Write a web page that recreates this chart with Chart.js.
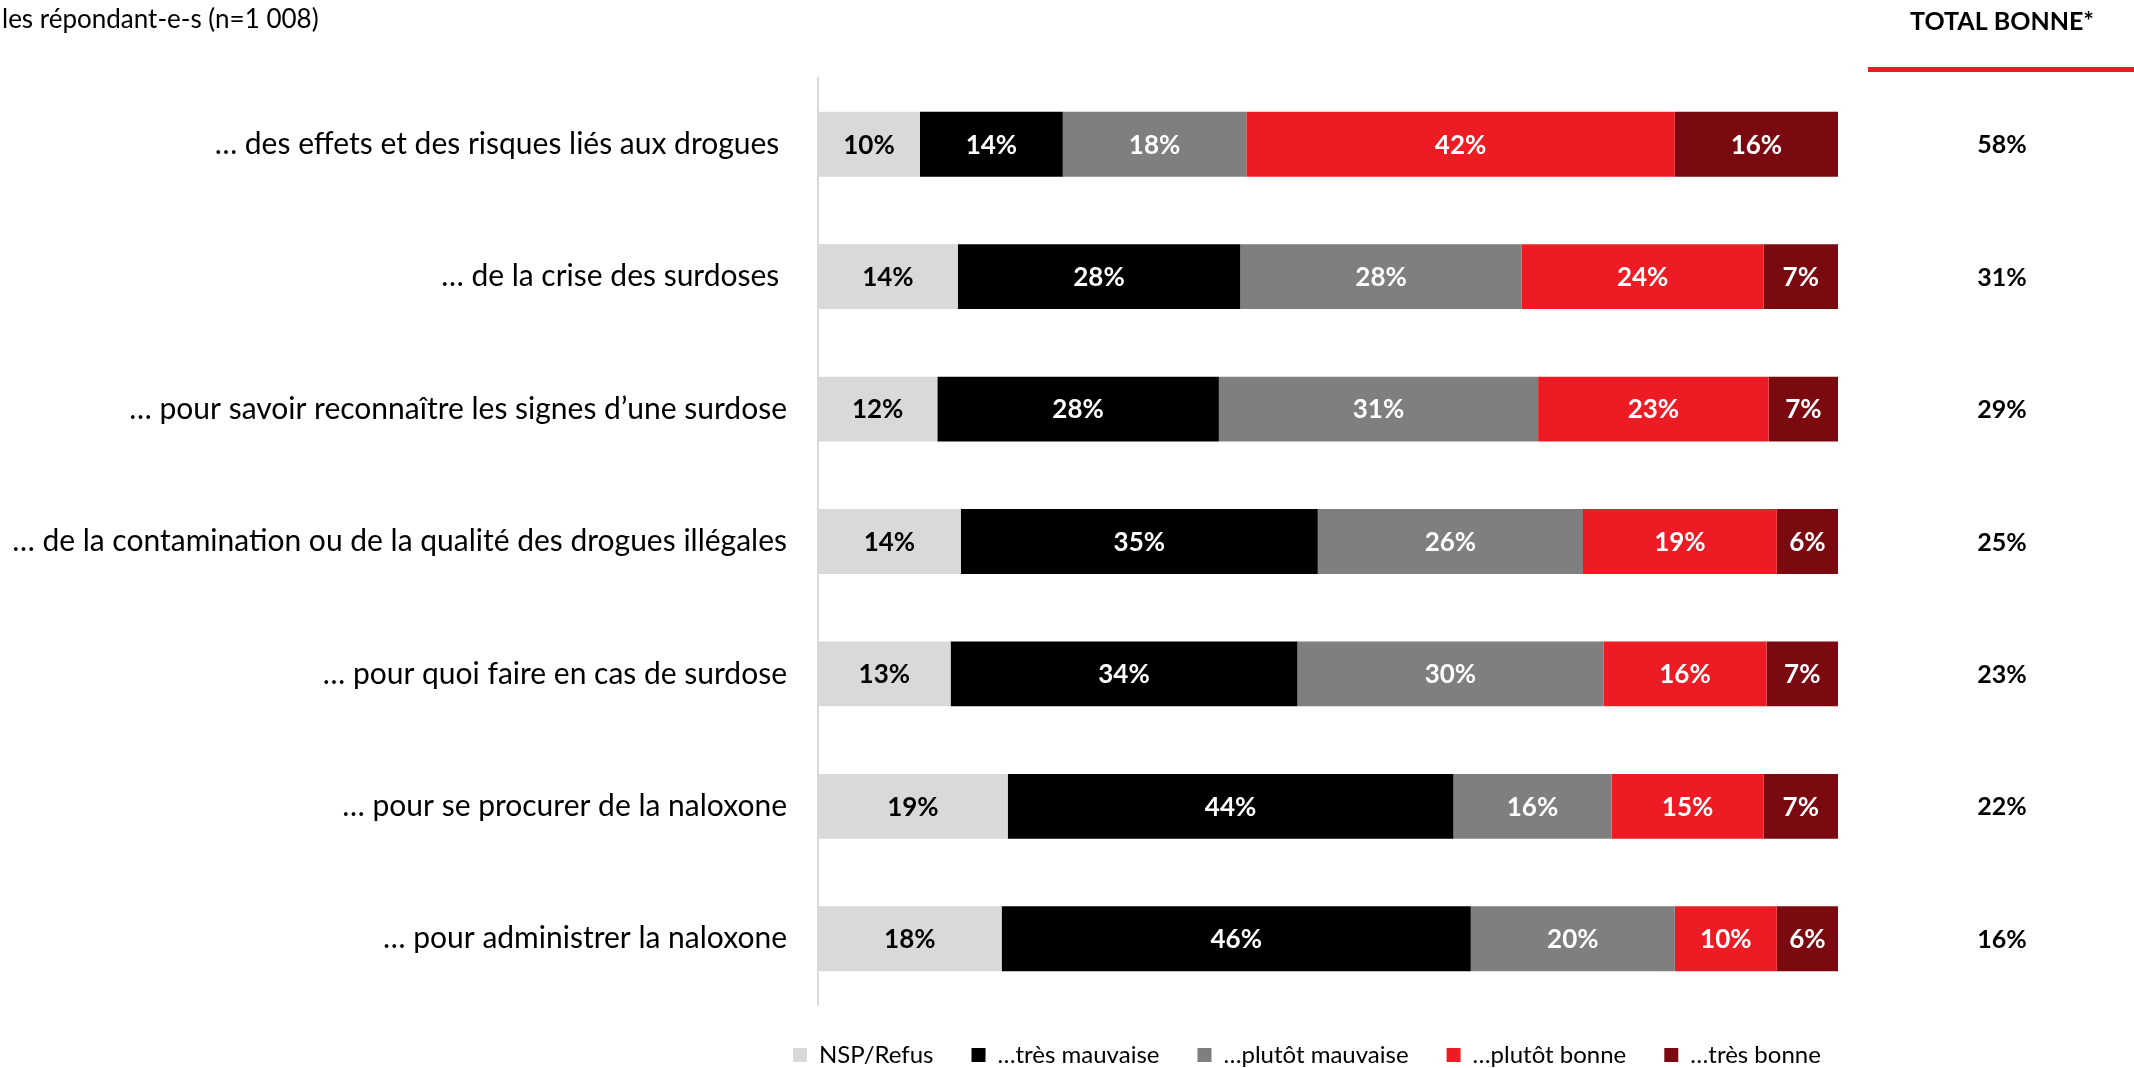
<!DOCTYPE html>
<html>
<head>
<meta charset="utf-8">
<script src="https://cdn.jsdelivr.net/npm/chart.js@4"></script>
<style>
  html, body { margin: 0; padding: 0; background: #fff; overflow: hidden; }
  #wrap { position: relative; width: 2134px; height: 1068px; }
</style>
</head>
<body>
<div id="wrap"><canvas id="chart" width="2134" height="1068"></canvas></div>
<script>
// ---- data ----
const CATEGORIES = [
  '… des effets et des risques liés aux drogues ',
  '… de la crise des surdoses ',
  '… pour savoir reconnaître les signes d’une surdose',
  '… de la contamination ou de la qualité des drogues illégales',
  '… pour quoi faire en cas de surdose',
  '… pour se procurer de la naloxone',
  '… pour administrer la naloxone',
];
const SERIES_NAMES = ['NSP/Refus', '…très mauvaise', '…plutôt mauvaise', '…plutôt bonne', '…très bonne'];
const NSP_REFUS       = [10, 13.7, 11.7, 14, 13, 18.6, 18];
const TRES_MAUVAISE   = [14, 27.7, 27.6, 35, 34, 43.7, 46];
const PLUTOT_MAUVAISE = [18, 27.6, 31.3, 26, 30, 15.5, 20];
const PLUTOT_BONNE    = [42, 23.7, 22.6, 19, 16, 14.9, 10];
const TRES_BONNE      = [16, 7.3, 6.8, 6, 7, 7.3, 6];
const TOTAL_BONNE     = [58, 31, 29, 25, 23, 22, 16];

const COLORS = ['#d9d9d9', '#000000', '#7f7f7f', '#ed1c24', '#7a0a0f'];
const FONT = 'Lato';

// category labels, labels in the bars, total column, header texts
const overlayPlugin = {
  id: 'overlay',
  afterDatasetsDraw(chart) {
    const { ctx } = chart;
    const yScale  = chart.scales.y;
    ctx.save();
    ctx.textBaseline = 'middle';

    ctx.textAlign = 'right';
    ctx.fillStyle = '#000';
    ctx.font      = `30px ${FONT}`;
    chart.data.labels.forEach((lab, i) => {
      ctx.fillText(lab, 787, yScale.getPixelForValue(i));
    });

    ctx.textAlign = 'center';
    ctx.font      = `bold 26px ${FONT}`;
    chart.data.datasets.forEach((ds, di) => {
      chart.getDatasetMeta(di).data.forEach((bar, i) => {
        ctx.fillStyle = di === 0 ? '#000' : '#fff';
        ctx.fillText(`${Math.round(ds.data[i])}%`, (bar.x + bar.base) / 2, bar.y + 1);
      });
    });

    ctx.fillStyle = '#000';
    ctx.font      = `bold 25px ${FONT}`;
    TOTAL_BONNE.forEach((v, i) => {
      ctx.fillText(`${v}%`, 2002, yScale.getPixelForValue(i) + 1);
    });

    ctx.fillText('TOTAL BONNE*', 2002, 22);
    ctx.fillStyle = '#ed1c24';
    ctx.fillRect(1868, 67, 266, 5);

    ctx.textAlign = 'left';
    ctx.fillStyle = '#000';
    ctx.font      = `26px ${FONT}`;
    ctx.fillText('les répondant-e-s (n=1 008)', 2, 20);
    ctx.restore();
  },
};

function build() {
  const series = [NSP_REFUS, TRES_MAUVAISE, PLUTOT_MAUVAISE, PLUTOT_BONNE, TRES_BONNE];
  new Chart(document.getElementById('chart'), {
    type: 'bar',
    data: {
      labels: CATEGORIES,
      datasets: series.map((arr, i) => ({
        label:              SERIES_NAMES[i],
        data:               arr,
        backgroundColor:    COLORS[i],
        borderWidth:        0,
        barPercentage:      0.49,
        categoryPercentage: 1,
      })),
    },
    options: {
      indexAxis:        'y',
      responsive:       false,
      devicePixelRatio: 1,
      animation:        false,
      layout: { padding: { left: 755, right: 0, top: 78, bottom: -9 } },
      scales: {
        x: { stacked: true, min: 0, max: 100, display: false },
        y: {
          stacked: true,
          grid:    { display: false, drawTicks: false },
          border:  { display: true, color: '#d9d9d9', width: 2 },
          ticks:   { display: false },
          afterFit(scale) { scale.width = 63; },
        },
        // empty right axis: keeps room for the "TOTAL BONNE*" column
        yRight: {
          type:     'category',
          position: 'right',
          grid:     { display: false, drawTicks: false },
          border:   { display: false },
          ticks:    { display: false },
          afterFit(scale) { scale.width = 296; },
        },
      },
      plugins: {
        legend: {
          position: 'bottom',
          align:    'start',
          labels: {
            boxWidth:  14,
            boxHeight: 14,
            padding:   38,
            color:     '#000',
            font:      { family: FONT, size: 24 },
          },
        },
        tooltip: { enabled: false },
      },
    },
    plugins: [overlayPlugin],
  });
}

Promise.all([
  document.fonts.load(`24px ${FONT}`),
  document.fonts.load(`bold 24px ${FONT}`),
]).then(build, build);
</script>
</body>
</html>
